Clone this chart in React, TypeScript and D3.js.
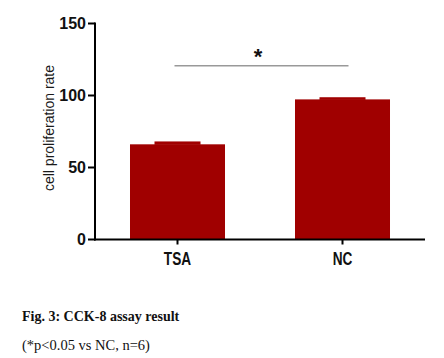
import React from "react";
import * as d3 from "d3";

const categories = ["TSA", "NC"];
const means = [66.1, 97.3];
const errors = [2.0, 1.5];
const yTicks = [0, 50, 100, 150];
const sigValue = 120.7;
const yLabel = "cell proliferation rate";
const caption = "Fig. 3: CCK-8 assay result";
const note = "(*p<0.05 vs NC, n=6)";

export default function App() {
  const W = 444, H = 358;
  const x0 = 95, x1 = 425, yTop = 23.5, yBot = 239.5;
  const y = d3.scaleLinear().domain([0, 150]).range([yBot, yTop]);
  const x = d3.scaleBand<string>().domain(categories).range([x0, x1]).paddingInner(0.4242).paddingOuter(0.2121);
  const barColor = "#a00000";
  const capW = 46;
  const c0 = (x("TSA") as number) + x.bandwidth() / 2;
  const c1 = (x("NC") as number) + x.bandwidth() / 2;
  return (
    <svg width={W} height={H} style={{ position: "absolute", left: 0, top: 0, background: "#fff" }}>
      {categories.map((c, i) => (
        <g key={c}>
          <rect x={x(c)} y={y(means[i])} width={x.bandwidth()} height={yBot - y(means[i])} fill={barColor} />
          <rect x={(x(c) as number) + x.bandwidth() / 2 - capW / 2} y={y(means[i] + errors[i])} width={capW} height={y(means[i]) - y(means[i] + errors[i]) + 0.5} fill={barColor} />
        </g>
      ))}
      <line x1={x0} x2={x0} y1={yTop - 1} y2={yBot + 1} stroke="#000" strokeWidth={2} />
      <line x1={x0 - 1} x2={x1} y1={yBot} y2={yBot} stroke="#000" strokeWidth={2} />
      {yTicks.map((t) => (
        <g key={t}>
          <line x1={x0 - 7} x2={x0} y1={y(t)} y2={y(t)} stroke="#000" strokeWidth={2} />
          <text x={x0 - 9} y={y(t)} dy="0.36em" textAnchor="end" fontFamily="Liberation Sans, Arial, sans-serif" fontWeight="bold" fontSize={16} fill="#111">{t}</text>
        </g>
      ))}
      {categories.map((c) => {
        const cx = (x(c) as number) + x.bandwidth() / 2;
        return (
          <g key={c}>
            <line x1={cx} x2={cx} y1={yBot} y2={yBot + 5} stroke="#000" strokeWidth={2} />
            <text transform={`translate(${cx},264.5) scale(0.78,1)`} textAnchor="middle" fontFamily="Liberation Sans, Arial, sans-serif" fontWeight="bold" fontSize={17.5} fill="#111">{c}</text>
          </g>
        );
      })}
      <text transform={`translate(53.5,128) rotate(-90)`} textAnchor="middle" fontFamily="Liberation Sans, Arial, sans-serif" fontSize={14} fill="#1a1a1a">{yLabel}</text>
      <line x1={c0 - 3} x2={c1 + 6} y1={y(sigValue)} y2={y(sigValue)} stroke="#999" strokeWidth={1.5} />
      <text x={258} y={64} textAnchor="middle" fontFamily="Liberation Sans, Arial, sans-serif" fontWeight="bold" fontSize={22} fill="#111">*</text>
      <text x={22} y={321} fontFamily="Liberation Serif, Times New Roman, serif" fontWeight="bold" fontSize={14} fill="#111">{caption}</text>
      <text x={22} y={350} fontFamily="Liberation Serif, Times New Roman, serif" fontSize={14.5} fill="#111">{note}</text>
    </svg>
  );
}
